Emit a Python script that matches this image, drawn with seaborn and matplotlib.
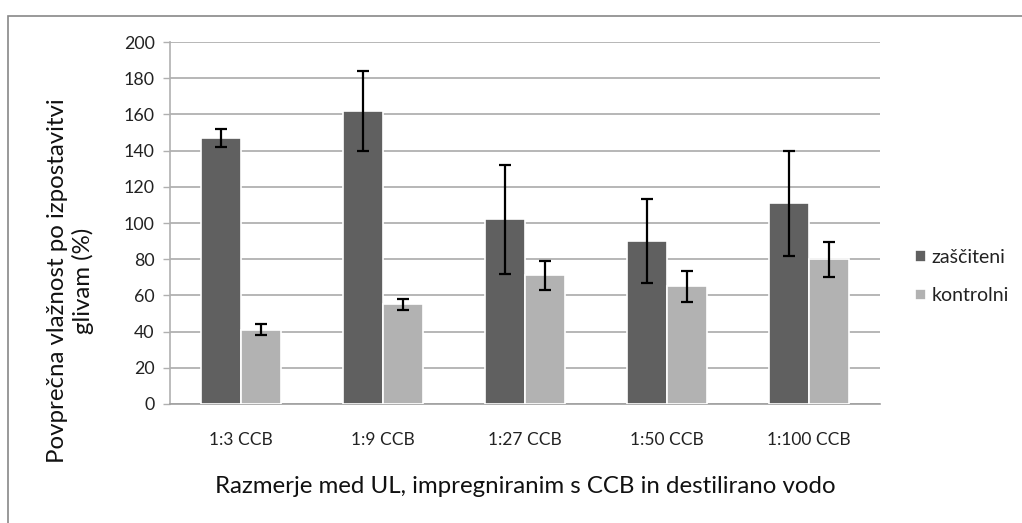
import matplotlib
matplotlib.use("Agg")
import matplotlib.pyplot as plt
import seaborn as sns
import pandas as pd
import numpy as np
from matplotlib.patches import Rectangle

categories = ["1:3 CCB", "1:9 CCB", "1:27 CCB", "1:50 CCB", "1:100 CCB"]
series_names = ["zaščiteni", "kontrolni"]
zasciteni = [147, 162, 102, 90, 111]
zasciteni_err = [5, 22, 30, 23, 29]
kontrolni = [41, 55, 71, 65, 80]
kontrolni_err = [3, 3, 8, 8.5, 9.7]
yticks = [0, 20, 40, 60, 80, 100, 120, 140, 160, 180, 200]

sns.set_theme(style="white")
plt.rcParams['font.family'] = ['Lato', 'DejaVu Sans']

df = pd.DataFrame({
    "cat": categories * 2,
    "series": [series_names[0]] * 5 + [series_names[1]] * 5,
    "val": zasciteni + kontrolni,
    "err": zasciteni_err + kontrolni_err,
})

fig = plt.figure(figsize=(10.22, 5.23), dpi=100)
ax = fig.add_axes([170/1022, 1-404/523, 710/1022, 362/523])

sns.barplot(data=df, x="cat", y="val", hue="series", order=categories,
            hue_order=series_names, palette=["#606060", "#b2b2b2"],
            width=0.56, errorbar=None, edgecolor="white", linewidth=1.2,
            ax=ax, zorder=3)

# error bars from bar positions
bars = [p for p in ax.patches if p.get_height() > 0][:10]
for p, (_, row) in zip(bars, df.iterrows()):
    cx = p.get_x() + p.get_width() / 2
    ax.errorbar(cx, row["val"], yerr=row["err"], fmt="none", ecolor="black",
                elinewidth=1.6, capsize=4, capthick=1.6, zorder=4)

ax.set_ylim(0, 200)
ax.set_yticks(yticks)
ax.set_xlim(-0.5, 4.5)
ax.yaxis.grid(True, color="#aaaaaa", linewidth=1.2, zorder=0)
ax.set_axisbelow(True)
for s in ["top", "right"]:
    ax.spines[s].set_visible(False)
ax.spines["left"].set_color("#b0b0b0")
ax.spines["bottom"].set_color("#a0a0a0")
ax.spines["left"].set_linewidth(1.2)
ax.spines["bottom"].set_linewidth(1.2)
ax.tick_params(axis="y", which="both", left=True, length=5, width=1, color="#b0b0b0",
               labelsize=12.8, pad=6, labelcolor="#222222")
ax.tick_params(axis="x", bottom=False, labelsize=12.5, pad=14, labelcolor="#222222")

ax.set_xlabel("Razmerje med UL, impregniranim s CCB in destilirano vodo",
              fontsize=17.3, labelpad=20, color="#111111")
ax.set_ylabel("")
fig.text(70.5/1022, 1 - 281/523, "Povprečna vlažnost po izpostavitvi\nglivam (%)",
         rotation=90, ha="center", va="center", multialignment="center",
         fontsize=17.3, color="#111111", linespacing=1.2)

leg = ax.legend(loc="center left", bbox_to_anchor=(1.025, 0.352), frameon=False,
                fontsize=14, handlelength=0.55, handleheight=0.55,
                handletextpad=0.3, labelspacing=1.1)
for t in leg.get_texts():
    t.set_color("#222222")

fig.patches.append(Rectangle((8/1022, -0.05), 1.05, 1 - 16/523 + 0.05,
                             transform=fig.transFigure, fill=False,
                             edgecolor="#888888", linewidth=1.2))

fig.savefig("out.png", dpi=100, facecolor="white")
